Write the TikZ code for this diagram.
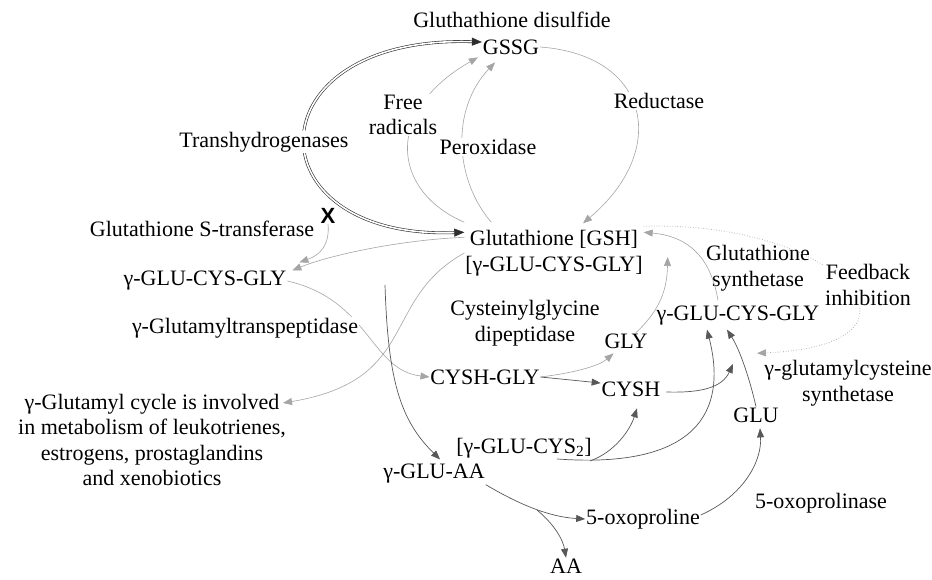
\documentclass[tikz,border=0pt]{standalone}
\usepackage{fontspec}
\setmainfont{Liberation Serif}
\newfontfamily\markfont{Liberation Sans}
\usetikzlibrary{arrows.meta}

\definecolor{linelite}{RGB}{165,165,165}
\definecolor{linedark}{RGB}{88,88,88}
\definecolor{lineink}{RGB}{45,45,45}

\begin{document}
\begin{tikzpicture}[x=1pt,y=-1pt,
  lbl/.style={inner sep=1pt,outer sep=0pt,align=center,font=\fontsize{22}{25.5}\selectfont},
  cover/.style={lbl,fill=white},
  arrowhd/.style={-{Triangle[length=9pt,width=7pt]}},
  lite/.style={arrowhd,draw=linelite,fill=none,line width=0.6pt},
  dark/.style={arrowhd,draw=linedark,fill=none,line width=0.7pt}]
\path[use as bounding box,fill=white] (0,0) rectangle (932,580);
% compounds
\node[lbl] (gssg) at (511,47) {GSSG};
\node[lbl] (gsh) at (554,253) {Glutathione [GSH]\\{}[γ-GLU-CYS-GLY]};
\node[lbl] (gcgL) at (205,281) {γ-GLU-CYS-GLY};
\node[lbl] (gcgR) at (738,316) {γ-GLU-CYS-GLY};
\node[lbl] (cyshgly) at (485,377) {CYSH-GLY};
\node[lbl] (gly) at (626,341) {GLY};
\node[lbl] (cysh) at (631,389) {CYSH};
\node[lbl] (cys2) at (524,448) {[γ-GLU-CYS\textsubscript{2}]};
\node[lbl] (gluaa) at (434,474) {γ-GLU-AA};
\node[lbl] (oxopro) at (643,519) {5-oxoproline};
\node[lbl] (aa) at (566,566) {AA};
\node[lbl] (glu) at (756,415) {GLU};
\node[lbl] (cycle) at (152,440) {γ-Glutamyl cycle is involved\\in metabolism of leukotrienes,\\estrogens, prostaglandins\\and xenobiotics};
\node[lbl] (gcsyn) at (848,383) {γ-glutamylcysteine\\synthetase};
\node[lbl] (gsyn) at (758,268) {Glutathione\\synthetase};
\node[inner sep=0pt,font=\markfont\bfseries\fontsize{22}{25}\selectfont] (gstx) at (328,216) {X};
\coordinate (aastart) at (385,285);
\coordinate (gcsite) at (733,364);
\coordinate (cysbr) at (590,461);
\coordinate (aabr) at (537,510);

% GSSG <-> GSH
\draw[lineink,line width=0.6pt,double=white,double distance=1.6pt,{Triangle[length=10pt,width=8pt]}-{Triangle[length=10pt,width=8pt]}] ([yshift=5pt]gssg.west) .. controls (250,35) and (250,240) .. ([yshift=-3pt]gsh.north west);
\draw[lite] ([yshift=7pt]gsh.north west) .. controls (390,190) and (385,110) .. ([xshift=-4pt,yshift=-2pt]gssg.south west);
\draw[lite] ([xshift=27pt,yshift=7pt]gsh.north west) .. controls (455,180) and (450,110) .. ([xshift=-16pt,yshift=-7pt]gssg.south);
\draw[lite] (gssg.east) .. controls (650,55) and (670,150) .. ([xshift=29pt,yshift=6pt]gsh.north);

% left side
\draw[lite] (gstx.south) .. controls (330,245) and (320,255) .. ([xshift=12pt,yshift=8pt]gcgL.north east);
\draw[lite] ([yshift=-8pt]gsh.north west) .. controls (400,240) and (330,255) .. ([xshift=5pt]gcgL.north east);
\draw[lite] (gsh.west) .. controls (380,300) and (420,380) .. ([xshift=131pt,yshift=-10pt]cycle.north);
\draw[lite] (gcgL.east) .. controls (370,300) and (370,370) .. (cyshgly.west);
\draw[dark] (aastart) .. controls (388,380) and (400,420) .. ([xshift=6pt,yshift=4pt]gluaa.north);

% middle
\draw[lite] (cyshgly.east) .. controls (580,372) and (600,365) .. ([xshift=10pt,yshift=-4pt]gly.south west);
\draw[dark] (cyshgly.east) -- ([yshift=6pt]cysh.west);
\draw[lite] ([xshift=10pt]gly.north) .. controls (660,310) and (667,290) .. ([xshift=24pt,yshift=-4pt]gsh.east);
\draw[lite] ([xshift=-20pt,yshift=5pt]gcgR.north) .. controls (712,265) and (695,237) .. ([yshift=-3pt]gsh.north east);
\draw[lite,dotted,line width=0.8pt] ([yshift=3pt]gsh.north east) .. controls (840,220) and (950,345) .. ([xshift=-91pt,yshift=6pt]gcsyn.north);
\draw[dark] ([xshift=5pt,yshift=-3pt]cysh.east) .. controls (700,393) and (722,388) .. (gcsite);
\draw[dark] ([xshift=33pt]cys2.south) .. controls (710,470) and (725,400) .. ([xshift=-31pt,yshift=-3pt]gcgR.south);
\draw[dark] (cysbr) .. controls (615,452) and (630,430) .. ([xshift=6pt,yshift=-11pt]cysh.south);
\draw[dark] (glu.north) .. controls (750,380) and (740,350) .. ([xshift=-11pt,yshift=-3pt]gcgR.south);

% bottom
\draw[dark] (gluaa.south east) .. controls (520,505) and (550,517) .. (oxopro.west);
\draw[dark] (aabr) .. controls (555,525) and (563,540) .. (aa.north);
\draw[dark] ([yshift=4pt]oxopro.east) .. controls (745,495) and (762,460) .. ([xshift=4pt,yshift=-5pt]glu.south);

% enzyme labels
\node[cover] (disulf) at (512,20) {Gluthathione disulfide};
\node[cover] (freerad) at (403,115) {Free\\radicals};
\node[cover] (perox) at (488,147) {Peroxidase};
\node[cover] (reduct) at (659,101) {Reductase};
\node[cover] (transhyd) at (264,142) {Transhydrogenases};
\node[cover] (gst) at (202,229) {Glutathione S-transferase};
\node[cover] (ggt) at (245,328) {γ-Glutamyltranspeptidase};
\node[cover] (cgdip) at (525,323) {Cysteinylglycine\\dipeptidase};
\node[cover] (feedback) at (868,285) {Feedback\\inhibition};
\node[cover] (oxoase) at (821,503) {5-oxoprolinase};
\end{tikzpicture}
\end{document}
